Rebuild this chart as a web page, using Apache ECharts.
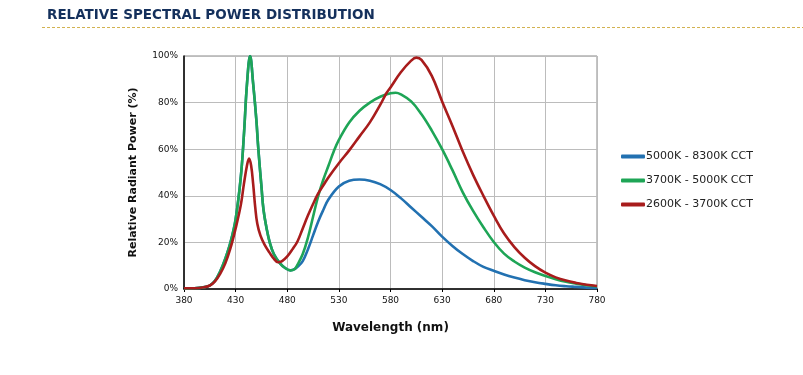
<!DOCTYPE html>
<html>
<head>
<meta charset="utf-8">
<script src="https://cdn.jsdelivr.net/npm/echarts@6/dist/echarts.min.js"></script>
<style>
  html, body { margin: 0; padding: 0; background: #fff; }
  #chart { width: 803px; height: 375px; }
</style>
</head>
<body>
<div id="chart"></div>
<script>
// 光谱数据 (波长 nm / 相对功率 %)
var blueName = '5000K - 8300K CCT';
var greenName = '3700K - 5000K CCT';
var redName = '2600K - 3700K CCT';

var blueNm  = [380, 390, 400, 405, 410, 415, 420, 425, 430, 435, 438, 441, 444, 447, 450, 452, 455, 457, 460, 463, 467, 473, 478, 483, 487, 490, 495, 500, 505, 510, 515, 520, 530, 540, 550, 560, 570, 580, 590, 600, 610, 620, 630, 640, 650, 660, 670, 680, 690, 700, 710, 720, 730, 740, 750, 760, 770, 780];
var bluePct = [0.2, 0.3, 0.8, 1.5, 3.5, 7.5, 13, 20, 30, 48, 66, 88, 100, 88, 73, 60, 44, 34, 26, 20, 15, 11, 9, 8, 8.5, 9.5, 12, 17, 23, 29, 34, 38.5, 44, 46.5, 47, 46.5, 45, 42.5, 39, 35, 31, 27, 22.5, 18.5, 15, 12, 9.5, 7.8, 6.2, 4.9, 3.8, 2.9, 2.2, 1.6, 1.2, 0.9, 0.6, 0.4];

var greenNm  = [380, 390, 400, 405, 410, 415, 420, 425, 430, 435, 438, 441, 444, 447, 450, 452, 455, 457, 460, 463, 467, 473, 478, 483, 487, 490, 495, 500, 505, 510, 515, 520, 525, 530, 540, 550, 560, 570, 580, 585, 590, 600, 610, 620, 630, 640, 650, 660, 670, 680, 690, 700, 710, 720, 730, 740, 750, 760, 770, 780];
var greenPct = [0.2, 0.3, 0.8, 1.5, 3.5, 7.5, 13, 20, 30, 48, 66, 88, 100, 88, 73, 60, 44, 34, 26, 20, 15, 11, 9, 8, 8.5, 10.5, 15, 22, 31, 40, 47, 53, 59, 64, 71.5, 76.5, 80, 82.5, 84, 84.2, 83.5, 80.5, 75, 68, 60, 51, 41.5, 33.5, 26.5, 20.2, 15.2, 11.8, 9.2, 7.2, 5.6, 4.2, 3.1, 2.3, 1.6, 1.1];

var redNm  = [380, 390, 400, 405, 410, 415, 420, 425, 430, 435, 438, 441, 443, 445, 447, 449, 451, 454, 458, 463, 467, 471, 475, 480, 485, 490, 495, 500, 505, 510, 515, 520, 530, 540, 550, 560, 570, 576, 580, 590, 600, 605, 610, 620, 630, 640, 650, 660, 670, 680, 690, 700, 710, 720, 730, 740, 750, 760, 770, 780];
var redPct = [0.3, 0.3, 0.8, 1.5, 3.3, 6.5, 11, 17.5, 26, 36, 45, 53, 56, 53, 45, 35, 28, 23, 19, 15.5, 13, 11.5, 12, 14, 17, 20.5, 26, 31.5, 36.5, 41, 44.5, 48, 54, 59.5, 65.5, 71.5, 79, 84, 86.5, 93, 98, 99.3, 98.3, 91.5, 80.5, 70, 59, 49, 40, 31.5, 23.8, 18, 13.4, 9.8, 7, 5, 3.6, 2.6, 1.8, 1.3];

var xMin = 380, xMax = 780, xStep = 50;
var yMin = 0, yMax = 100, yStep = 20;

var colors = ['#2271b1', '#1ea556', '#a81c1c'];

function pairs(xs, ys) {
    var out = [];
    for (var i = 0; i < xs.length; i++) {
        out.push([xs[i], ys[i]]);
    }
    return out;
}

function lineSeries(name, xs, ys, color) {
    return {
        name: name,
        type: 'line',
        data: pairs(xs, ys),
        smooth: 0.4,
        showSymbol: false,
        symbol: 'none',
        lineStyle: { color: color, width: 2.6 },
        itemStyle: { color: color },
        emphasis: { disabled: true }
    };
}

var chart = echarts.init(document.getElementById('chart'));
chart.setOption({
    animation: false,
    textStyle: { fontFamily: 'DejaVu Sans' },
    title: {
        text: 'RELATIVE SPECTRAL POWER DISTRIBUTION',
        left: 42,
        top: 3,
        textStyle: { fontFamily: 'DejaVu Sans', fontWeight: 'bold', fontSize: 13.5, color: '#14305c' }
    },
    graphic: [{
        type: 'line',
        shape: { x1: 42, y1: 27.5, x2: 803, y2: 27.5 },
        style: { stroke: '#d2b250', lineWidth: 1, lineDash: [3, 2] }
    }],
    legend: {
        orient: 'vertical',
        left: 616,
        top: 146,
        itemWidth: 24,
        itemHeight: 4,
        itemGap: 13,
        icon: 'roundRect',
        textStyle: { fontFamily: 'DejaVu Sans', fontSize: 11, color: '#222', padding: [0, 0, 0, -4] },
        data: [blueName, greenName, redName]
    },
    grid: {
        left: 184,
        right: 206,
        top: 56,
        bottom: 86,
        show: true,
        borderColor: '#888',
        borderWidth: 1
    },
    xAxis: {
        type: 'value',
        min: xMin,
        max: xMax,
        interval: xStep,
        name: 'Wavelength (nm)',
        nameLocation: 'middle',
        nameGap: 33,
        nameTextStyle: { fontFamily: 'DejaVu Sans', fontWeight: 'bold', fontSize: 12, color: '#111' },
        axisLine: { show: true, lineStyle: { color: '#000', width: 1.5 } },
        axisTick: { show: true, length: 3, lineStyle: { color: '#000' } },
        axisLabel: { fontSize: 9, color: '#111', margin: 7 },
        splitLine: { show: true, lineStyle: { color: '#bcbcbc', width: 1 } }
    },
    yAxis: {
        type: 'value',
        min: yMin,
        max: yMax,
        interval: yStep,
        name: 'Relative Radiant Power (%)',
        nameLocation: 'middle',
        nameGap: 45,
        nameTextStyle: { fontFamily: 'DejaVu Sans', fontWeight: 'bold', fontSize: 11, color: '#111' },
        axisLine: { show: true, lineStyle: { color: '#000', width: 1.5 } },
        axisTick: { show: false },
        axisLabel: { fontSize: 9, color: '#111', margin: 6, formatter: '{value}%' },
        splitLine: { show: true, lineStyle: { color: '#bcbcbc', width: 1 } }
    },
    series: [
        lineSeries(blueName, blueNm, bluePct, colors[0]),
        lineSeries(greenName, greenNm, greenPct, colors[1]),
        lineSeries(redName, redNm, redPct, colors[2])
    ]
});
</script>
</body>
</html>
